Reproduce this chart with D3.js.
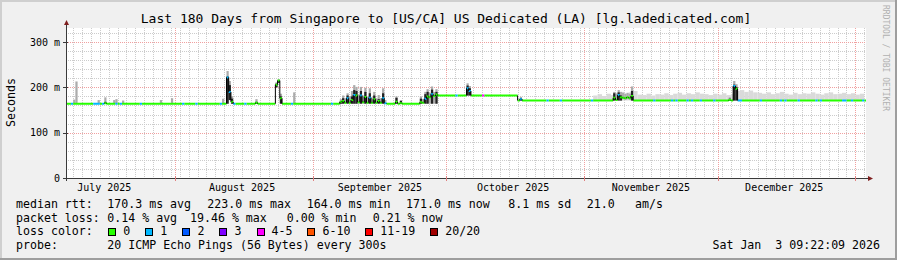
<!DOCTYPE html>
<html>
<head>
<meta charset="utf-8">
<script src="https://cdn.jsdelivr.net/npm/d3@7"></script>
<style>
body { margin: 0; background: #f0f0f0; }
text { font-family: "DejaVu Sans Mono", monospace; white-space: pre; }
</style>
</head>
<body>
<div id="chart"></div>
<script>
// Setup
var svgWidth = 897;
var svgHeight = 260;
var plot = {left: 66, right: 866, top: 28, bottom: 178};
var halfDay = 12 * 3600 * 1000;

var titleText = "Last 180 Days from Singapore to [US/CA] US Dedicated (LA) [lg.ladedicated.com]";
var startTime = new Date("2025-07-07T09:22:09Z");
var endTime = new Date("2026-01-03T09:22:09Z");

// median rtt plateaus (ms)
var plateauStart = ["2025-07-01T00:00Z", "2025-09-29T00:00Z", "2025-10-17T00:00Z"];
var plateauRtt = [164, 182, 171];

// 12h slots that leave the plateau: [time, median, smoke low, dark smoke top, smoke top, lost pings]
var julyTicks = [
    ["2025-07-09T00:00Z", null, null, null, 173, 0],
    ["2025-07-09T12:00Z", null, null, null, 213, 0],
    ["2025-07-14T12:00Z", null, null, null, 172, 1],
    ["2025-07-16T00:00Z", 165, null, 168, 178, 0],
    ["2025-07-18T00:00Z", null, null, null, 172, 0],
    ["2025-07-18T12:00Z", null, null, null, 174, 1],
    ["2025-07-20T00:00Z", null, null, null, 171, 0],
    ["2025-07-28T12:00Z", null, null, null, 172, 0],
    ["2025-07-31T00:00Z", null, null, null, 176, 0]
];
var augustSpikes = [
    ["2025-08-11T12:00Z", null, null, null, 175, 0],
    ["2025-08-12T12:00Z", 222, null, 224, 236, 1],
    ["2025-08-13T00:00Z", 190, 172, 205, 214, 1],
    ["2025-08-13T12:00Z", 168, null, 175, 180, 0],
    ["2025-08-19T00:00Z", 166, null, 168, 174, 0],
    ["2025-08-23T12:00Z", 206, 200, 208, 211, 0],
    ["2025-08-24T00:00Z", 215, 210, 216, 218, 0],
    ["2025-08-24T12:00Z", 176, null, 180, 186, 0],
    ["2025-08-27T12:00Z", null, null, null, 189, 0]
];
var septemberCluster = [
    ["2025-09-07T00:00Z", 168, null, 170, 174, 0],
    ["2025-09-07T12:00Z", 170, null, 176, 182, 0],
    ["2025-09-08T00:00Z", 166, null, null, 176, 0],
    ["2025-09-08T12:00Z", 176, null, 182, 187, 1],
    ["2025-09-09T00:00Z", 166, null, null, 180, 0],
    ["2025-09-09T12:00Z", 172, null, 180, 192, 0],
    ["2025-09-10T00:00Z", 183, null, 194, 205, 1],
    ["2025-09-10T12:00Z", 182, null, 192, 201, 0],
    ["2025-09-11T00:00Z", 167, null, null, 184, 0],
    ["2025-09-11T12:00Z", 182, null, 192, 201, 1],
    ["2025-09-12T00:00Z", 167, null, null, 182, 0],
    ["2025-09-12T12:00Z", 179, null, 190, 199, 0],
    ["2025-09-13T00:00Z", 166, null, null, 180, 0],
    ["2025-09-13T12:00Z", 177, null, 187, 198, 1],
    ["2025-09-14T00:00Z", 166, null, null, 178, 0],
    ["2025-09-14T12:00Z", 174, null, 182, 190, 0],
    ["2025-09-15T00:00Z", 166, null, null, 176, 0],
    ["2025-09-15T12:00Z", 170, null, 174, 183, 0],
    ["2025-09-16T00:00Z", 166, null, null, 176, 0],
    ["2025-09-16T12:00Z", 176, null, 187, 198, 1],
    ["2025-09-17T00:00Z", 165, null, null, 172, 1],
    ["2025-09-19T12:00Z", 168, null, 177, 180, 0],
    ["2025-09-20T12:00Z", 165, null, 170, 172, 0]
];
var septemberRamp = [
    ["2025-09-25T00:00Z", 167, null, 175, 180, 0],
    ["2025-09-25T12:00Z", 166, null, null, 174, 0],
    ["2025-09-26T00:00Z", 175, null, 185, 190, 1],
    ["2025-09-26T12:00Z", 180, null, 190, 196, 0],
    ["2025-09-27T00:00Z", 178, null, null, 188, 0],
    ["2025-09-27T12:00Z", 185, null, 195, 202, 1],
    ["2025-09-28T00:00Z", 181, null, null, 190, 0],
    ["2025-09-28T12:00Z", 184, null, 190, 196, 0]
];
var octoberEvents = [
    ["2025-10-05T12:00Z", 198, null, 204, 209, 1],
    ["2025-10-06T00:00Z", 192, null, 198, 203, 1],
    ["2025-10-09T00:00Z", null, null, null, null, 4],
    ["2025-10-17T12:00Z", 174, null, 176, 179, 1]
];
var novemberCluster = [
    ["2025-11-07T12:00Z", 177, null, 187, 190, 0],
    ["2025-11-08T00:00Z", 172, null, null, 186, 0],
    ["2025-11-08T12:00Z", 183, null, 189, 194, 1],
    ["2025-11-09T00:00Z", 178, null, 182, 190, 0],
    ["2025-11-09T12:00Z", 177, 174, null, 188, 0],
    ["2025-11-10T00:00Z", 176, 173, null, 186, 0],
    ["2025-11-10T12:00Z", 178, 174, null, 188, 0],
    ["2025-11-11T00:00Z", 176, 173, null, 186, 0],
    ["2025-11-11T12:00Z", 181, null, 192, 202, 0]
];
var decemberSpike = [
    ["2025-12-03T12:00Z", 172, null, 175, 178, 0],
    ["2025-12-04T12:00Z", 203, null, 206, 214, 1],
    ["2025-12-05T00:00Z", 197, null, 201, 207, 0]
];

// slots on the plateau with one lost ping
var lossTime = ["2025-07-08T12:00Z", "2025-07-13T12:00Z", "2025-07-14T00:00Z", "2025-07-15T12:00Z",
    "2025-07-19T12:00Z", "2025-07-24T00:00Z", "2025-08-02T12:00Z", "2025-08-05T12:00Z",
    "2025-08-11T00:00Z", "2025-08-14T00:00Z", "2025-08-16T12:00Z", "2025-08-27T00:00Z",
    "2025-09-05T00:00Z", "2025-10-03T00:00Z", "2025-10-23T12:00Z", "2025-10-26T12:00Z",
    "2025-11-02T12:00Z", "2025-11-16T12:00Z", "2025-11-20T12:00Z", "2025-11-21T12:00Z",
    "2025-11-24T00:00Z", "2025-11-25T00:00Z", "2025-11-27T00:00Z", "2025-11-30T00:00Z",
    "2025-12-05T12:00Z", "2025-12-06T00:00Z", "2025-12-10T12:00Z", "2025-12-15T00:00Z",
    "2025-12-16T00:00Z", "2025-12-19T00:00Z", "2025-12-23T00:00Z", "2025-12-24T00:00Z",
    "2025-12-29T00:00Z", "2025-12-29T12:00Z", "2025-12-31T00:00Z", "2026-01-02T12:00Z"];

// light smoke top (ms), one value per day from Nov 3
var fuzzStart = "2025-11-03T00:00Z";
var fuzzTop = [182, 185, 181, 186, 183, 188, 190, 186, 189, 192,
    184, 183, 186, 182, 185, 184, 187, 183, 186, 188, 184, 187, 185, 189,
    186, 185, 183, 186, 184, 187, 183, 185, 192, 194, 190, 193, 189,
    188, 186, 189, 185, 187, 190, 186, 184, 188, 185, 187, 186,
    189, 186, 184, 187, 189, 185, 186, 188, 185, 187, 184, 186];

var yTicks = [0, 100, 200, 300];
var yTickLabels = ["0", "100 m", "200 m", "300 m"];
var monthLabels = ["July 2025", "August 2025", "September 2025", "October 2025", "November 2025", "December 2025"];
var monthLabelDates = ["2025-07-16", "2025-08-16", "2025-09-16", "2025-10-16", "2025-11-16", "2025-12-16"];

var lossLabels = ["0", "1", "2", "3", "4-5", "6-10", "11-19", "20/20"];
var lossColors = ["#26ff00", "#00b8ff", "#0059ff", "#7e00ff", "#ff00ff", "#ff5500", "#ff0000", "#a10000"];

var rttLegend = [["median rtt:", 16], ["170.3 ms avg", 107.3], ["223.0 ms max", 207.3], ["164.0 ms min", 306.7],
    ["171.0 ms now", 406], ["8.1 ms sd", 508.3], ["21.0", 586.7], ["am/s", 635]];
var lossLegend = [["packet loss:", 16], ["0.14 % avg", 107.3], ["19.46 % max", 190], ["0.00 % min", 286.7],
    ["0.21 % now", 372.7]];
var probeText = "20 ICMP Echo Pings (56 Bytes) every 300s";
var stampText = "Sat Jan  3 09:22:09 2026";

// helpers
function lossBucket(n) {
    return n <= 3 ? n : n <= 5 ? 4 : n <= 10 ? 5 : n <= 19 ? 6 : 7;
}
var plateauDates = plateauStart.map(d => new Date(d));
function plateauAt(t) {
    return plateauRtt[d3.bisectRight(plateauDates, t) - 1];
}

var svg = d3.select('#chart')
    .append('svg')
    .attr('width', svgWidth)
    .attr('height', svgHeight)
    .style('display', 'block');

// frame
svg.append('rect').attr('width', svgWidth).attr('height', svgHeight).attr('fill', '#f0f0f0');
svg.append('path').attr('d', `M1,${svgHeight} V1 H${svgWidth}`).attr('fill', 'none')
    .attr('stroke', '#cfcfcf').attr('stroke-width', 2);
svg.append('path').attr('d', `M0,${svgHeight - 1} H${svgWidth - 1} V0`).attr('fill', 'none')
    .attr('stroke', '#9e9e9e').attr('stroke-width', 2);

var x = d3.scaleUtc().domain([startTime, endTime]).range([plot.left, plot.right]);
var y = d3.scaleLinear().domain([0, 331]).range([plot.bottom, plot.top]);

svg.append('rect')
    .attr('x', plot.left).attr('y', plot.top)
    .attr('width', plot.right - plot.left).attr('height', plot.bottom - plot.top)
    .attr('fill', '#ffffff');

svg.append('clipPath').attr('id', 'clip')
    .append('rect')
    .attr('x', plot.left).attr('y', plot.top)
    .attr('width', plot.right - plot.left).attr('height', plot.bottom - plot.top);

// grid
var gridG = svg.append('g').attr('clip-path', 'url(#clip)');
var minorDays = d3.utcDay.range(startTime, endTime).filter(d => Math.round(d / 864e5) % 2 === 0);
var monthStarts = d3.utcMonth.range(startTime, endTime);
var minorValues = d3.range(20, 340, 20).filter(v => v % 100 !== 0);

gridG.selectAll('.vminor').data(minorDays).enter().append('line')
    .attr('x1', d => Math.round(x(d)) + 0.5).attr('x2', d => Math.round(x(d)) + 0.5)
    .attr('y1', plot.top).attr('y2', plot.bottom)
    .attr('stroke', '#cccccc').attr('stroke-dasharray', '1,1');
gridG.selectAll('.hminor').data(minorValues).enter().append('line')
    .attr('x1', plot.left).attr('x2', plot.right)
    .attr('y1', d => Math.round(y(d)) + 0.5).attr('y2', d => Math.round(y(d)) + 0.5)
    .attr('stroke', '#cccccc').attr('stroke-dasharray', '1,1');
gridG.selectAll('.vmajor').data(monthStarts).enter().append('line')
    .attr('x1', d => Math.round(x(d)) + 0.5).attr('x2', d => Math.round(x(d)) + 0.5)
    .attr('y1', plot.top).attr('y2', plot.bottom)
    .attr('stroke', '#f0a0a0').attr('stroke-dasharray', '1,1');
gridG.selectAll('.hmajor').data(yTicks.slice(1)).enter().append('line')
    .attr('x1', plot.left).attr('x2', plot.right)
    .attr('y1', d => Math.round(y(d)) + 0.5).attr('y2', d => Math.round(y(d)) + 0.5)
    .attr('stroke', '#f0a0a0').attr('stroke-dasharray', '1,1');

// slot series
var events = [].concat(julyTicks, augustSpikes, septemberCluster, septemberRamp,
    octoberEvents, novemberCluster, decemberSpike);
var eventByTime = new Map(events.map(e => [new Date(e[0]).getTime(), e]));
var lossSet = new Set(lossTime.map(d => new Date(d).getTime()));
var slots = d3.utcHour.every(12).range(new Date("2025-07-07T00:00Z"), endTime);
var series = slots.map(function(t) {
    var e = eventByTime.get(t.getTime());
    var base = plateauAt(t);
    return {
        t: t,
        t1: new Date(+t + halfDay),
        base: base,
        med: e && e[1] != null ? e[1] : base,
        lo: e && e[2] != null ? e[2] : base,
        dark: e ? e[3] : null,
        hi: e ? e[4] : null,
        loss: e ? e[5] : (lossSet.has(t.getTime()) ? 1 : 0)
    };
});

var dataG = svg.append('g').attr('clip-path', 'url(#clip)');

// light smoke in Nov / Dec
var fuzzDay0 = new Date(fuzzStart);
dataG.append('g').selectAll('rect')
    .data(fuzzTop)
    .enter()
    .append('rect')
    .attr('x', (d, i) => x(d3.utcDay.offset(fuzzDay0, i)))
    .attr('width', (d, i) => x(d3.utcDay.offset(fuzzDay0, i + 1)) - x(d3.utcDay.offset(fuzzDay0, i)))
    .attr('y', d => y(d))
    .attr('height', (d, i) => y(plateauAt(d3.utcDay.offset(fuzzDay0, i))) - y(d))
    .attr('fill', '#dadada');

// smoke of the events
var smoky = series.filter(s => s.hi != null);
dataG.append('g').selectAll('rect')
    .data(smoky)
    .enter()
    .append('rect')
    .attr('x', d => x(d.t))
    .attr('width', d => x(d.t1) - x(d.t))
    .attr('y', d => y(d.hi))
    .attr('height', d => y(d.lo) - y(d.hi))
    .attr('fill', '#ababab');
dataG.append('g').selectAll('rect')
    .data(smoky.filter(s => s.dark != null))
    .enter()
    .append('rect')
    .attr('x', d => x(d.t))
    .attr('width', d => x(d.t1) - x(d.t))
    .attr('y', d => y(d.dark))
    .attr('height', d => y(d.lo) - y(d.dark))
    .attr('fill', '#222222');

// median, one path per loss colour
var medianG = dataG.append('g');
lossColors.forEach(function(color, b) {
    var path = series.filter(s => lossBucket(s.loss) === b)
        .map(s => `M${x(s.t)},${y(s.med)}H${x(s.t1)}`).join('');
    if (path) {
        medianG.append('path').attr('d', path).attr('fill', 'none')
            .attr('stroke', color).attr('stroke-width', 2);
    }
});
// vertical joins between slots
var joins = [];
series.forEach(function(s, i) {
    if (i > 0 && series[i - 1].med !== s.med) joins.push([series[i - 1], s]);
});
medianG.selectAll('line')
    .data(joins)
    .enter()
    .append('line')
    .attr('x1', d => x(d[1].t)).attr('x2', d => x(d[1].t))
    .attr('y1', d => y(d[0].med)).attr('y2', d => y(d[1].med))
    .attr('stroke', '#000').attr('stroke-width', 1);

// axes
var axisColor = '#3a3a3a';
var arrowColor = '#7f1f1f';
svg.append('line').attr('x1', plot.left + 0.5).attr('x2', plot.left + 0.5)
    .attr('y1', plot.bottom + 3).attr('y2', 24).attr('stroke', axisColor);
svg.append('line').attr('x1', plot.left - 3).attr('x2', plot.right + 3)
    .attr('y1', plot.bottom + 0.5).attr('y2', plot.bottom + 0.5).attr('stroke', axisColor);
svg.append('path').attr('d', `M${plot.left - 2},25 L${plot.left + 3},25 L${plot.left + 0.5},20 Z`).attr('fill', arrowColor);
svg.append('path').attr('d', `M${plot.right + 2},${plot.bottom - 2} L${plot.right + 2},${plot.bottom + 3} L${plot.right + 7},${plot.bottom + 0.5} Z`).attr('fill', arrowColor);

svg.append('g').selectAll('line')
    .data(yTicks)
    .enter()
    .append('line')
    .attr('x1', plot.left - 3).attr('x2', plot.left + 2)
    .attr('y1', d => Math.round(y(d)) + 0.5).attr('y2', d => Math.round(y(d)) + 0.5)
    .attr('stroke', axisColor);
svg.append('g').selectAll('text')
    .data(yTicks)
    .enter()
    .append('text')
    .attr('x', 60)
    .attr('y', d => y(d) + 3.6)
    .attr('text-anchor', 'end')
    .attr('font-size', 10)
    .text((d, i) => yTickLabels[i]);

svg.append('g').selectAll('line')
    .data(monthStarts)
    .enter()
    .append('line')
    .attr('x1', d => Math.round(x(d)) + 0.5).attr('x2', d => Math.round(x(d)) + 0.5)
    .attr('y1', plot.bottom - 2).attr('y2', plot.bottom + 3)
    .attr('stroke', '#e08080');
svg.append('g').selectAll('text')
    .data(monthLabels)
    .enter()
    .append('text')
    .attr('x', (d, i) => x(new Date(monthLabelDates[i] + "T00:00Z")))
    .attr('y', 190.6)
    .attr('text-anchor', 'middle')
    .attr('font-size', 10)
    .text(d => d);

// titles
svg.append('text').attr('x', 446).attr('y', 23).attr('text-anchor', 'middle')
    .attr('font-size', 13).text(titleText);
svg.append('text').attr('transform', 'translate(15, 102.5) rotate(-90)')
    .attr('text-anchor', 'middle').attr('font-size', 11.6).text('Seconds');
svg.append('text').attr('transform', 'translate(883, 5) rotate(90)')
    .attr('font-size', 8).attr('fill', '#b0b0b0').text('RRDTOOL / TOBI OETIKER');

// legend
var legendG = svg.append('g').attr('font-size', 11.6);
var rowY = [207.8, 221.6, 235.4, 249.2];
rttLegend.forEach(function(p) {
    legendG.append('text').attr('x', p[1]).attr('y', rowY[0]).text(p[0]);
});
lossLegend.forEach(function(p) {
    legendG.append('text').attr('x', p[1]).attr('y', rowY[1]).text(p[0]);
});
legendG.append('text').attr('x', 16).attr('y', rowY[2]).text('loss color:');
var boxX = 108.3;
lossLabels.forEach(function(label, i) {
    legendG.append('rect')
        .attr('x', Math.round(boxX) + 0.5).attr('y', 228.5)
        .attr('width', 7).attr('height', 7)
        .attr('fill', lossColors[i]).attr('stroke', '#000');
    legendG.append('text').attr('x', boxX + 15).attr('y', rowY[2]).text(label);
    boxX += 15 + label.length * 6.95 + 15.1;
});
legendG.append('text').attr('x', 16).attr('y', rowY[3]).text('probe:');
legendG.append('text').attr('x', 107.3).attr('y', rowY[3]).text(probeText);
legendG.append('text').attr('x', 880).attr('y', rowY[3]).attr('text-anchor', 'end').text(stampText);
</script>
</body>
</html>
